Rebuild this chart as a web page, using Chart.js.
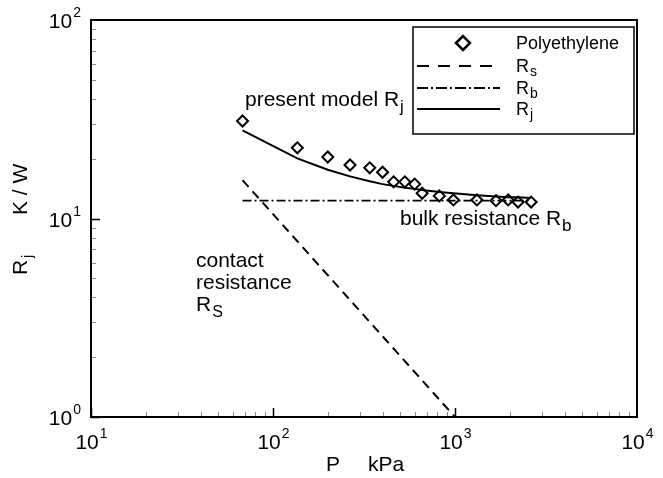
<!DOCTYPE html>
<html><head><meta charset="utf-8">
<script src="https://cdn.jsdelivr.net/npm/chart.js@4/dist/chart.umd.min.js"></script>
<style>html,body{margin:0;padding:0;background:#fff;} #wrap{width:663px;height:478px;}</style>
</head><body><div id="wrap"><canvas id="c" width="663" height="478"></canvas></div>
<script>
// ---- data ----
const pressureKPa = [68, 136, 200, 265, 340, 400, 460, 530, 600, 660, 820, 980, 1320, 1680, 1960, 2220, 2620];
const measuredRj  = [31.0, 22.7, 20.4, 18.6, 18.0, 17.1, 15.3, 15.3, 14.9, 13.4, 13.0, 12.4, 12.4, 12.3, 12.4, 12.1, 12.1];
const modelRj     = [27.8, 20.1, 17.6, 16.3, 15.4, 14.9, 14.6, 14.3, 14.1, 13.9, 13.6, 13.4, 13.1, 12.9, 12.8, 12.8, 12.7];
const rsPressure  = [68, 1000];
const contactRs   = [15.6, 1.0];
const rbPressure  = [68, 2620];
const bulkRb      = [12.3, 12.3];
const xTickExponents = [1, 2, 3, 4];
const yTickExponents = [0, 1, 2];
const seriesNames = ['Polyethylene', 'Rs', 'Rb', 'Rj'];

const FONT = "'Liberation Sans', Arial, Helvetica, sans-serif";
const pts = (xs, ys) => xs.map((x, i) => ({x: x, y: ys[i]}));

function subText(ctx, x, y, main, sub, size, subSize, subDy, align) {
  ctx.font = size + 'px ' + FONT;
  const w1 = ctx.measureText(main).width;
  ctx.font = subSize + 'px ' + FONT;
  const w2 = ctx.measureText(sub).width;
  let x0 = x;
  if (align === 'center') x0 = x - (w1 + w2) / 2;
  if (align === 'right') x0 = x - (w1 + w2);
  ctx.textAlign = 'left';
  ctx.font = size + 'px ' + FONT;
  ctx.fillText(main, x0, y);
  ctx.font = subSize + 'px ' + FONT;
  ctx.fillText(sub, x0 + w1 + 1, y + subDy);
}

const decor = {
  id: 'decor',
  beforeDraw(chart) {
    const ctx = chart.ctx;
    ctx.save(); ctx.fillStyle = '#fff'; ctx.fillRect(0, 0, chart.width, chart.height); ctx.restore();
  },
  afterDraw(chart) {
    const ctx = chart.ctx, a = chart.chartArea, xs = chart.scales.x, ys = chart.scales.y;
    ctx.save();
    ctx.fillStyle = '#000'; ctx.strokeStyle = '#000';
    ctx.textBaseline = 'alphabetic';
    // minor + major ticks, x
    for (let e = xTickExponents[0]; e < xTickExponents[xTickExponents.length - 1]; e++) {
      for (let m = 1; m <= 9; m++) {
        const px = Math.round(xs.getPixelForValue(m * Math.pow(10, e))) + 0.5;
        ctx.beginPath();
        ctx.lineWidth = m === 1 ? 1.5 : 1;
        ctx.strokeStyle = m === 1 ? '#000' : '#888';
        ctx.moveTo(px, a.bottom); ctx.lineTo(px, a.bottom - (m === 1 ? 9 : 5)); ctx.stroke();
      }
    }
    for (let e = yTickExponents[0]; e < yTickExponents[yTickExponents.length - 1]; e++) {
      for (let m = 1; m <= 9; m++) {
        const py = Math.round(ys.getPixelForValue(m * Math.pow(10, e))) + 0.5;
        ctx.beginPath();
        ctx.lineWidth = m === 1 ? 1.5 : 1;
        ctx.strokeStyle = m === 1 ? '#000' : '#888';
        ctx.moveTo(a.left, py); ctx.lineTo(a.left + (m === 1 ? 9 : 5), py); ctx.stroke();
      }
    }
    // frame
    ctx.strokeStyle = '#000'; ctx.lineWidth = 2;
    ctx.strokeRect(a.left, a.top, a.right - a.left, a.bottom - a.top);
    // tick labels
    ctx.fillStyle = '#000';
    xTickExponents.forEach(e => {
      const px = xs.getPixelForValue(Math.pow(10, e));
      subText(ctx, px, 449, '10', String(e), 21, 14, -11, 'center');
    });
    yTickExponents.forEach(e => {
      const py = ys.getPixelForValue(Math.pow(10, e));
      subText(ctx, 80, py + 8, '10', String(e), 21, 14, -11, 'right');
    });
    // axis titles
    ctx.font = '21px ' + FONT; ctx.textAlign = 'left';
    ctx.fillText('P', 326, 471);
    ctx.fillText('kPa', 368, 471);
    ctx.save();
    ctx.translate(27, 275); ctx.rotate(-Math.PI / 2);
    ctx.font = '21px ' + FONT; ctx.fillText('R', 0, 0);
    ctx.font = '14px ' + FONT; ctx.fillText('j', 17, 5);
    ctx.font = '21px ' + FONT; ctx.fillText('K / W', 60, 0);
    ctx.restore();
    // annotations
    subText(ctx, 245, 106, 'present model R', 'j', 21, 17, 6, 'left');
    subText(ctx, 400, 225, 'bulk resistance R', 'b', 21, 17, 6, 'left');
    ctx.font = '21px ' + FONT; ctx.textAlign = 'left';
    ctx.fillText('contact', 196, 267);
    ctx.fillText('resistance', 196, 289);
    subText(ctx, 196, 311, 'R', 'S', 21, 16, 6, 'left');
    // legend box
    const L = {l: 413, t: 27, r: 634, b: 134};
    ctx.fillStyle = '#fff'; ctx.fillRect(L.l, L.t, L.r - L.l, L.b - L.t);
    ctx.strokeStyle = '#000'; ctx.lineWidth = 1.5;
    ctx.strokeRect(L.l, L.t, L.r - L.l, L.b - L.t);
    const rowsY = [43, 66, 88, 109];
    // diamond
    ctx.lineWidth = 2.5;
    ctx.beginPath();
    const dx = 463, dy = rowsY[0], dr = 7;
    ctx.moveTo(dx - dr, dy); ctx.lineTo(dx, dy - dr); ctx.lineTo(dx + dr, dy); ctx.lineTo(dx, dy + dr); ctx.closePath(); ctx.stroke();
    const dashes = [[], [12, 9], [11, 3, 2, 3], []];
    [1, 2, 3].forEach(i => {
      ctx.beginPath(); ctx.setLineDash(dashes[i]); ctx.lineWidth = 2;
      ctx.moveTo(417, rowsY[i]); ctx.lineTo(500, rowsY[i]); ctx.stroke();
    });
    ctx.setLineDash([]);
    ctx.fillStyle = '#000';
    ctx.font = '18px ' + FONT; ctx.textAlign = 'left';
    ctx.fillText(seriesNames[0], 516, rowsY[0] + 6);
    subText(ctx, 516, rowsY[1] + 6, seriesNames[1][0], seriesNames[1].slice(1), 18, 14, 4, 'left');
    subText(ctx, 516, rowsY[2] + 6, seriesNames[2][0], seriesNames[2].slice(1), 18, 14, 4, 'left');
    subText(ctx, 516, rowsY[3] + 6, seriesNames[3][0], seriesNames[3].slice(1), 18, 14, 4, 'left');
    ctx.restore();
  }
};

new Chart(document.getElementById('c'), {
  type: 'scatter',
  data: {
    datasets: [
      { label: seriesNames[1], data: pts(rsPressure, contactRs), showLine: true, borderColor: '#000', borderWidth: 2, borderDash: [9, 6], pointRadius: 0, fill: false },
      { label: seriesNames[2], data: pts(rbPressure, bulkRb), showLine: true, borderColor: '#000', borderWidth: 1.8, borderDash: [9, 3, 2, 3], pointRadius: 0, fill: false },
      { label: seriesNames[3], data: pts(pressureKPa, modelRj), showLine: true, borderColor: '#000', borderWidth: 2, pointRadius: 0, tension: 0, fill: false },
      { label: seriesNames[0], data: pts(pressureKPa, measuredRj), showLine: false, pointStyle: 'rectRot', pointRadius: 5.5, borderColor: '#000', borderWidth: 2, backgroundColor: 'rgba(0,0,0,0)' }
    ]
  },
  options: {
    responsive: false,
    animation: false,
    devicePixelRatio: 1,
    layout: { padding: { left: 91, right: 26, top: 20, bottom: 61 } },
    plugins: { legend: { display: false }, tooltip: { enabled: false } },
    scales: {
      x: { type: 'logarithmic', min: 10, max: 10000, display: false },
      y: { type: 'logarithmic', min: 1, max: 100, display: false }
    }
  },
  plugins: [decor]
});
</script>
</body></html>
